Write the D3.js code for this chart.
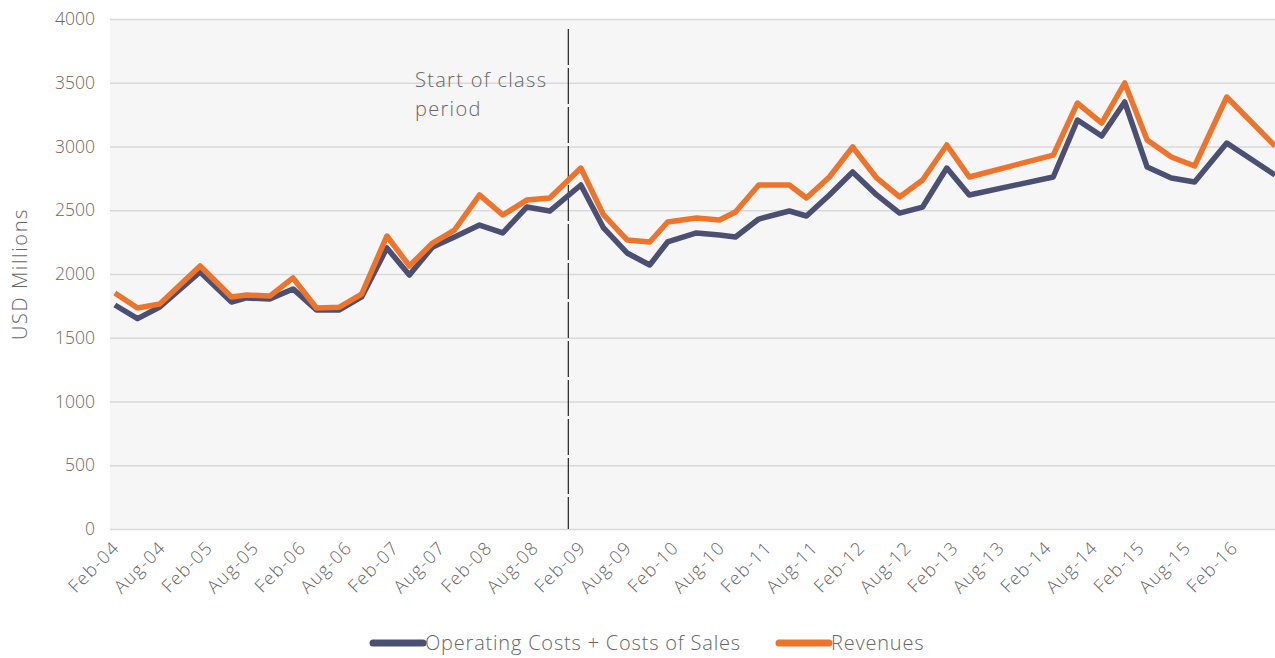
<!DOCTYPE html>
<html>
<head>
<meta charset="utf-8">
<script src="https://cdn.jsdelivr.net/npm/d3@7"></script>
<style>
	body { margin: 0; background: #fff; }
	svg { display: block; font-family: 'Open Sans', Lato, sans-serif; font-weight: 300; }
</style>
</head>
<body>
<svg></svg>
<script>

// reporting dates
const dates = [
	'2004-02-20', '2004-05-19', '2004-08-14', '2005-01-19', '2005-05-22', '2005-07-20',
	'2005-10-19', '2006-01-18', '2006-04-20', '2006-07-19', '2006-10-14', '2007-01-21',
	'2007-04-19', '2007-07-19', '2007-10-13', '2008-01-19', '2008-04-19', '2008-07-22',
	'2008-10-20', '2009-02-19', '2009-05-19', '2009-08-19', '2009-11-16', '2010-01-25',
	'2010-05-18', '2010-08-16', '2010-10-18', '2011-01-17', '2011-05-17', '2011-07-23',
	'2011-10-21', '2012-01-20', '2012-04-23', '2012-07-22', '2012-10-20', '2013-01-23',
	'2013-04-21', '2014-03-16', '2014-06-19', '2014-09-22', '2014-12-21', '2015-03-19',
	'2015-06-22', '2015-09-21', '2016-01-25', '2016-08-01'
]

const opCosts = [
	1757, 1650, 1741, 2016, 1780, 1812, 1804, 1883, 1718, 1718, 1820, 2204,
	1992, 2212, 2290, 2384, 2322, 2525, 2494, 2698, 2361, 2165, 2071, 2251,
	2322, 2306, 2290, 2431, 2494, 2455, 2620, 2800, 2620, 2478, 2525, 2831,
	2620, 2761, 3208, 3082, 3349, 2839, 2753, 2722, 3027, 2776
]

const revenues = [
	1851, 1733, 1765, 2063, 1820, 1835, 1827, 1969, 1733, 1740, 1843, 2298,
	2063, 2243, 2345, 2620, 2463, 2580, 2596, 2831, 2463, 2267, 2251, 2408,
	2439, 2424, 2486, 2698, 2698, 2596, 2761, 2996, 2753, 2604, 2737, 3012,
	2761, 2933, 3341, 3184, 3498, 3051, 2918, 2847, 3388, 3004
]

const tickLabels = [
	'Feb-04', 'Aug-04', 'Feb-05', 'Aug-05', 'Feb-06', 'Aug-06', 'Feb-07', 'Aug-07',
	'Feb-08', 'Aug-08', 'Feb-09', 'Aug-09', 'Feb-10', 'Aug-10', 'Feb-11', 'Aug-11',
	'Feb-12', 'Aug-12', 'Feb-13', 'Aug-13', 'Feb-14', 'Aug-14', 'Feb-15', 'Aug-15', 'Feb-16'
]
const yTicks = [0, 500, 1000, 1500, 2000, 2500, 3000, 3500, 4000]

const classStart = '2009-01-01'
const seriesNames = ['Operating Costs + Costs of Sales', 'Revenues']
const colors = ['#4b5073', '#ee742c']

{
	let width = 1275, height = 658
	let pl = 110, pr = 1275, pt = 19, pb = 529
	let txt = '#666'
	let font = "'Open Sans', Lato, sans-serif"

	const parseDay = d3.timeParse('%Y-%m-%d')
	const parseTick = d3.timeParse('%b-%y')

	let scX = d3.scaleTime()
		.domain([new Date(2004, 1, 1), new Date(2016, 7, 1)])
		.range([pl, pr])

	let scY = d3.scaleLinear()
		.domain([0, 4000])
		.range([pb, pt])

	let svg = d3.select('svg')
		.attr('width', width).attr('height', height)

	svg.append('clipPath').attr('id', 'plot')
		.append('rect')
		.attr('x', pl).attr('y', pt - 5)
		.attr('width', pr - pl).attr('height', pb - pt + 10)

	// plot background
	svg.append('rect')
		.attr('x', pl).attr('y', pt)
		.attr('width', pr - pl).attr('height', pb - pt)
		.attr('fill', '#f6f6f6')

	// y axis + gridlines
	let yAxis = d3.axisLeft(scY)
		.tickValues(yTicks)
		.tickFormat(d3.format('d'))
		.tickSize(-(pr - pl))
		.tickPadding(15)

	let gy = svg.append('g')
		.attr('transform', `translate(${pl}, 0)`)
		.call(yAxis)

	gy.select('.domain').remove()
	gy.selectAll('line').attr('stroke', '#d9d9d9').attr('stroke-width', 1.5)
	gy.selectAll('text')
		.attr('fill', txt)
		.style('font-size', '17.5px')
		.style('font-family', font)
		.style('font-weight', 300)

	// x axis, labels only
	let xAxis = d3.axisBottom(scX)
		.tickValues(tickLabels.map(parseTick))
		.tickFormat(d3.timeFormat('%b-%y'))
		.tickSize(0)

	let gx = svg.append('g')
		.attr('transform', `translate(0, ${pb})`)
		.call(xAxis)

	gx.select('.domain').remove()
	gx.selectAll('text')
		.attr('fill', txt)
		.style('font-size', '18px')
		.style('font-family', font)
		.style('font-weight', 300)
		.style('letter-spacing', '1.2px')
		.attr('text-anchor', 'end')
		.attr('dy', null).attr('y', 0)
		.attr('transform', 'translate(10, 20) rotate(-45)')

	svg.append('text')
		.attr('transform', `translate(27, ${(pt + pb) / 2}) rotate(-90)`)
		.attr('text-anchor', 'middle')
		.attr('fill', txt)
		.style('font-size', '20px')
		.style('letter-spacing', '1.6px')
		.text('USD Millions')

	// class period marker
	let xStart = scX(parseDay(classStart))
	svg.append('line')
		.attr('x1', xStart).attr('x2', xStart)
		.attr('y1', 29).attr('y2', pb)
		.attr('stroke', '#333')
		.attr('stroke-width', 1.3)
		.attr('stroke-dasharray', '36 3')

	svg.append('text')
		.attr('x', 415).attr('y', 87)
		.attr('fill', txt)
		.style('font-size', '20px')
		.style('letter-spacing', '1.3px')
		.selectAll('tspan')
		.data(['Start of class', 'period']).enter().append('tspan')
		.attr('x', 415)
		.attr('dy', (d, i) => i ? 29 : 0)
		.text(d => d)

	// lines
	let lineMkr = d3.line()
		.x(d => scX(d[0]))
		.y(d => scY(d[1]))

	let series = [opCosts, revenues].map(vals => dates.map((d, i) => [parseDay(d), vals[i]]))

	svg.append('g')
		.attr('clip-path', 'url(#plot)')
		.selectAll('path')
		.data(series).enter().append('path')
		.attr('fill', 'none')
		.attr('stroke', (d, i) => colors[i])
		.attr('stroke-width', 5.5)
		.attr('stroke-linejoin', 'round')
		.attr('d', lineMkr)

	// legend
	let legendX = [370, 776]
	let lg = svg.append('g')
		.selectAll('g')
		.data(seriesNames).enter().append('g')
		.attr('transform', (d, i) => `translate(${legendX[i]}, 643)`)

	lg.append('line')
		.attr('x1', 3).attr('x2', 53)
		.attr('stroke', (d, i) => colors[i])
		.attr('stroke-width', 7)
		.attr('stroke-linecap', 'round')

	lg.append('text')
		.attr('x', 55).attr('y', 7)
		.attr('fill', txt)
		.style('font-size', '20px')
		.style('letter-spacing', '0.8px')
		.text(d => d)
}

</script>
</body>
</html>
